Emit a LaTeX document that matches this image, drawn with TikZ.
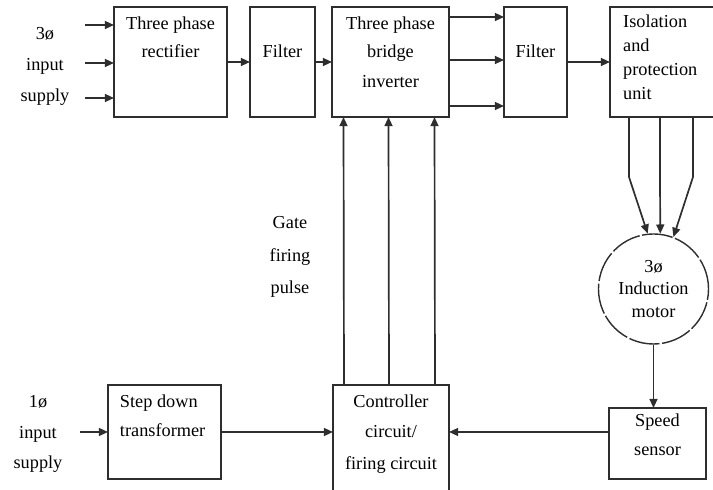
\documentclass[tikz,border=0pt]{standalone}
\usepackage{fontspec}
\setmainfont{Liberation Serif}
\usepackage{tikz}
\usetikzlibrary{arrows.meta,positioning,calc}
\colorlet{drvink}{black!82}
\newcommand{\drvtext}[4]{\parbox[c][#2][t]{#1}{\centering\vspace*{#3}#4}}
\tikzset{
  drvblock/.style={
    draw=drvink,
    line width=1.6pt,
    inner sep=0pt,
    outer sep=0pt,
    font=\fontsize{13}{20}\selectfont
  },
  drvmotor/.style={circle,draw=drvink,line width=1pt,dash pattern=on 22pt off 1.8pt,
                   minimum size=27.5mm,inner sep=0pt,align=center,
                   font=\fontsize{13}{16}\selectfont},
  drvflow/.style={-{Triangle[length=2.3mm,width=2mm]},line width=1.2pt,drvink},
  drvlabel/.style={align=center,inner sep=0pt,font=\fontsize{13}{22}\selectfont}
}

\begin{document}
\begin{tikzpicture}[x=0.025cm,y=-0.025cm]
  \useasboundingbox (0,0) rectangle (713,490);

  % power path
  \node[drvblock] (rect) at (170.5,62)
    {\drvtext{28.25mm}{27.5mm}{7pt}{Three phase\\rectifier}};
  \node[drvblock] (filt1) at (282.5,62)
    {\drvtext{16.25mm}{27.5mm}{27pt}{Filter}};
  \node[drvblock] (inv) at (390.5,62)
    {\drvtext{29.25mm}{27.5mm}{7pt}{Three phase\\bridge\\[1.5pt]inverter}};
  \node[drvblock] (filt2) at (535.5,62)
    {\drvtext{15.75mm}{27.5mm}{27pt}{Filter}};
  \node[drvblock,font=\fontsize{13}{17}\selectfont] (iso) at (663,62)
    {\drvtext{26.5mm}{27.5mm}{5.5pt}{\raggedright\leftskip=3.3mm Isolation\\and\\protection\\unit}};

  \node[drvmotor] (motor) at (653.5,289) {3ø\\Induction\\motor};
  \node[drvblock] (speed) at (657.5,443.5)
    {\drvtext{24.25mm}{17.75mm}{4.5pt}{Speed\\[0.5pt]sensor}};

  % control path
  \node[drvblock,font=\fontsize{13}{21}\selectfont] (ctrl) at (391,440.5)
    {\drvtext{29mm}{27.75mm}{7pt}{Controller\\circuit/\\[2pt]firing circuit}};
  \node[drvblock,font=\fontsize{13}{20.5}\selectfont] (step) at (164.5,432)
    {\drvtext{28.25mm}{23.5mm}{7pt}{\raggedright\leftskip=3mm Step down\\transformer}};

  \node[drvlabel] (in3ph) at (45,66) {3ø\\input\\supply};
  \node[drvlabel] (in1ph) at (38,434) {1ø\\input\\supply};
  \node[drvlabel,font=\fontsize{13}{23}\selectfont] (gate) at (290,257) {Gate\\firing\\pulse};

  \foreach \y [count=\i] in {25,63,98}{
    \coordinate (src\i) at (85,\y);
    \draw[drvflow] (src\i) -- (src\i -| rect.west);
  }
  \draw[drvflow] (rect.east) -- (filt1.west);
  \draw[drvflow] (filt1.east) -- (inv.west);
  \foreach \dy in {-45,-2,44}
    \draw[drvflow] ($(inv.east)+(0,\dy)$) -- ($(filt2.west)+(0,\dy)$);
  \draw[drvflow] (filt2.east) -- (iso.west);
  \foreach \dx/\ang in {19/96,50/83,83/69}
    \draw[drvflow] ($(iso.south west)+(\dx,0)$) -- ++(0,60) -- (motor.\ang);
  \draw[drvflow] (motor.south) -- (motor.south |- speed.north);

  \coordinate (src4) at (80,432);
  \draw[drvflow] (src4) -- (src4 -| step.west);
  \draw[drvflow] (step.east) -- (step.east -| ctrl.west);
  \draw[drvflow] (step.east -| speed.west) -- (step.east -| ctrl.east);
  \foreach \dx in {-47,-2,44}
    \draw[drvflow] ($(ctrl.north)+(\dx,0)$) -- ($(inv.south)+(\dx,0)$);
\end{tikzpicture}
\end{document}
